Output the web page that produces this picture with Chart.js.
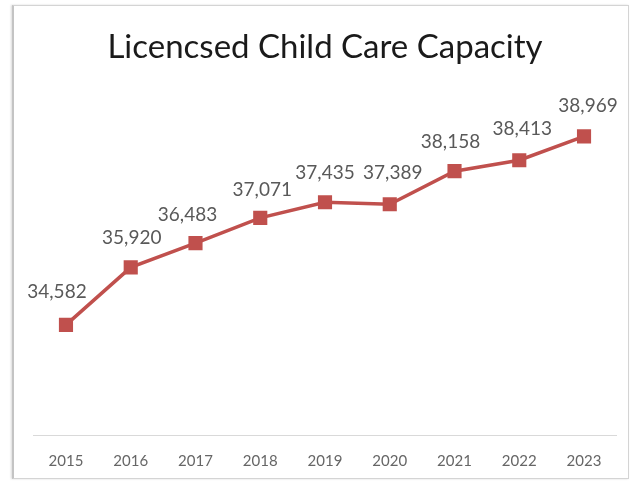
<!DOCTYPE html>
<html>
<head>
<meta charset="utf-8">
<script src="https://cdn.jsdelivr.net/npm/chart.js@4.4.1/dist/chart.umd.min.js"></script>
<style>
  html, body { margin: 0; padding: 0; background: #ffffff; }
  #wrap { position: relative; width: 631px; height: 482px; overflow: hidden; }
  #frame { position: absolute; left: 12px; top: 5px; width: 614px; height: 472px;
           border: 1px solid #d4d4d4; border-left: 2px solid #c4c4c4;
           box-shadow: -1px 0 2px rgba(0,0,0,0.15); background: #fff; }
  canvas { position: absolute; left: 0; top: 0; }
</style>
</head>
<body>
<div id="wrap">
  <div id="frame"></div>
  <canvas id="c" width="631" height="482"></canvas>
</div>
<script>
const years = ['2015','2016','2017','2018','2019','2020','2021','2022','2023'];
const capacity = [34582, 35920, 36483, 37071, 37435, 37389, 38158, 38413, 38969];
const chartTitle = 'Licencsed Child Care Capacity';

const labelNudge = [[-9,-33],[1,-29],[-8,-28],[2,-28],[0,-29],[3,-31],[-4,-29],[3,-31],[4,-30]];

const dataLabels = {
  id: 'dataLabels',
  afterDatasetsDraw(chart) {
    const ctx = chart.ctx;
    const meta = chart.getDatasetMeta(0);
    const ds = chart.data.datasets[0];
    ctx.save();
    ctx.font = '19px Lato, "Open Sans", sans-serif';
    ctx.fillStyle = '#595959';
    ctx.textAlign = 'center';
    ctx.textBaseline = 'middle';
    meta.data.forEach((pt, i) => {
      const n = labelNudge[i] || [0, -30];
      ctx.fillText(ds.data[i].toLocaleString('en-US'), pt.x + n[0], pt.y + n[1]);
    });
    ctx.restore();
  }
};

new Chart(document.getElementById('c'), {
  type: 'line',
  data: {
    labels: years,
    datasets: [{
      data: capacity,
      borderColor: '#C0504D',
      backgroundColor: '#C0504D',
      borderWidth: 3.5,
      pointStyle: 'rect',
      pointRadius: 10,
      pointBorderWidth: 0,
      pointBackgroundColor: '#C0504D',
      tension: 0,
      fill: false
    }]
  },
  options: {
    responsive: false,
    animation: false,
    devicePixelRatio: 1,
    layout: { padding: { top: 9, bottom: -3.8, left: 33.6, right: 14.6 } },
    plugins: {
      legend: { display: false },
      tooltip: { enabled: false },
      title: {
        display: true,
        text: chartTitle,
        color: '#1a1a1a',
        font: { family: 'Lato, "Open Sans", sans-serif', size: 33, weight: 'normal', lineHeight: 1.2 },
        padding: { top: 18.2, bottom: 25.2 }
      }
    },
    scales: {
      x: {
        offset: true,
        grid: { display: false, drawTicks: false },
        border: { display: true, color: '#d9d9d9', width: 1 },
        ticks: { color: '#666666', padding: 16, font: { family: 'Lato, "Open Sans", sans-serif', size: 15 } }
      },
      y: {
        display: false,
        min: 32000,
        max: 40000
      }
    }
  },
  plugins: [dataLabels]
});
</script>
</body>
</html>
